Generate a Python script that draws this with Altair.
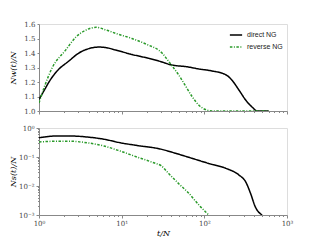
import altair as alt
import pandas as pd

series = ["direct NG", "reverse NG"]
colors = ["#000000", "#2a9a2a"]
dashes = [[1, 0], [2.5, 1.5, 1, 1.5]]

# top panel N_w(t)/N
t_top_direct = [1, 1.15, 1.32, 1.65, 2.3, 3.0, 4.0, 5.3, 6.5, 8.5, 13.3, 21.3, 28, 40.6, 60, 86, 124, 182, 215, 262, 316, 380, 437, 600]
y_top_direct = [1.08, 1.14, 1.2, 1.275, 1.345, 1.398, 1.43, 1.441, 1.437, 1.42, 1.39, 1.363, 1.345, 1.317, 1.306, 1.29, 1.276, 1.25, 1.214, 1.145, 1.076, 1.026, 1.0, 1.0]
t_top_reverse = [1, 1.15, 1.45, 2.1, 2.8, 3.7, 4.9, 6.5, 8.5, 13.3, 21, 28, 31, 34, 40, 49, 60, 71, 86, 103, 124, 600]
y_top_reverse = [1.055, 1.16, 1.30, 1.42, 1.51, 1.558, 1.577, 1.558, 1.535, 1.50, 1.455, 1.42, 1.398, 1.37, 1.317, 1.248, 1.168, 1.10, 1.04, 1.01, 1.0, 1.0]

# bottom panel N_s(t)/N
t_bot_direct = [1, 1.65, 2.4, 3.8, 6.1, 9.6, 15.3, 29, 45, 71, 113, 181, 262, 316, 362, 414, 500]
y_bot_direct = [0.46, 0.53, 0.53, 0.49, 0.41, 0.31, 0.25, 0.19, 0.134, 0.09, 0.06, 0.041, 0.024, 0.014, 0.0056, 0.0019, 0.001]
t_bot_reverse = [1, 1.65, 2.4, 3.8, 6.1, 9.6, 15.3, 24.5, 30, 37, 49, 65, 86, 103, 113]
y_bot_reverse = [0.33, 0.35, 0.35, 0.31, 0.24, 0.16, 0.10, 0.063, 0.05, 0.027, 0.012, 0.0056, 0.0022, 0.0013, 0.001]

x_ticks = [1, 2, 3, 4, 5, 6, 7, 8, 9, 10, 20, 30, 40, 50, 60, 70, 80, 90, 100,
           200, 300, 400, 500, 600, 700, 800, 900, 1000]
y_top_ticks = [1.0, 1.1, 1.2, 1.3, 1.4, 1.5, 1.6]
y_bot_ticks = [0.001, 0.002, 0.003, 0.004, 0.005, 0.006, 0.007, 0.008, 0.009,
               0.01, 0.02, 0.03, 0.04, 0.05, 0.06, 0.07, 0.08, 0.09,
               0.1, 0.2, 0.3, 0.4, 0.5, 0.6, 0.7, 0.8, 0.9, 1]


def frame(ts, ys, names):
    rows = []
    for t, y, n in zip(ts, ys, names):
        for a, b in zip(t, y):
            rows.append({"t": a, "v": b, "s": n})
    return pd.DataFrame(rows)


df_top = frame([t_top_direct, t_top_reverse], [y_top_direct, y_top_reverse], series)
df_bot = frame([t_bot_direct, t_bot_reverse], [y_bot_direct, y_bot_reverse], series)

serif = "DejaVu Serif"
major_x = "datum.value == 1 || datum.value == 10 || datum.value == 100 || datum.value == 1000"
major_y = "datum.value == 1 || datum.value == 0.1 || datum.value == 0.01 || datum.value == 0.001"

color = alt.Color("s:N", scale=alt.Scale(domain=series, range=colors),
                  legend=alt.Legend(title=None, orient="top-right", offset=4,
                                    symbolType="stroke", symbolSize=150, symbolStrokeWidth=1.5,
                                    labelFont="Liberation Sans", labelFontSize=7, labelColor="#222",
                                    rowPadding=2, symbolOffset=0))
dash = alt.StrokeDash("s:N", scale=alt.Scale(domain=series, range=dashes), legend=None)


def x_enc(labels):
    return alt.X("t:Q", scale=alt.Scale(type="log", domain=[1, 1000], nice=False),
                 axis=alt.Axis(values=x_ticks, grid=False,
                               labels=labels,
                               labelExpr="datum.value == 1 ? '10⁰' : datum.value == 10 ? '10¹' : datum.value == 100 ? '10²' : datum.value == 1000 ? '10³' : ''",
                               tickSize={"condition": {"test": major_x, "value": 3}, "value": 1.5},
                               title="t/N" if labels else None,
                               titleFont=serif, titleFontStyle="italic", titleFontWeight="normal",
                               titleFontSize=8, titlePadding=3,
                               labelFont=serif, labelFontSize=7, labelColor="#444",
                               domainColor="#888", tickColor="#888", labelPadding=1,
                               labelFlush=False))


top = alt.Chart(df_top).mark_line(strokeWidth=1.5, interpolate="monotone", clip=True).encode(
    x=x_enc(False),
    y=alt.Y("v:Q", scale=alt.Scale(domain=[1.0, 1.6], nice=False, zero=False),
            axis=alt.Axis(values=y_top_ticks, format=".1f", grid=False, title="Nw(t)/N",
                          titleFont=serif, titleFontStyle="italic", titleFontWeight="normal",
                          titleFontSize=8, titlePadding=2, minExtent=20, maxExtent=20,
                          labelFont=serif, labelFontSize=7, labelColor="#444",
                          tickSize=2, domainColor="#888", tickColor="#888", labelPadding=2)),
    color=color,
    strokeDash=dash,
).properties(width=248, height=87)

bot = alt.Chart(df_bot).mark_line(strokeWidth=1.5, interpolate="monotone", clip=True).encode(
    x=x_enc(True),
    y=alt.Y("v:Q", scale=alt.Scale(type="log", domain=[0.001, 1], nice=False),
            axis=alt.Axis(values=y_bot_ticks, grid=False, title="Ns(t)/N",
                          labelExpr="datum.value == 1 ? '10⁰' : datum.value == 0.1 ? '10⁻¹' : datum.value == 0.01 ? '10⁻²' : datum.value == 0.001 ? '10⁻³' : ''",
                          tickSize={"condition": {"test": major_y, "value": 3}, "value": 1.5},
                          titleFont=serif, titleFontStyle="italic", titleFontWeight="normal",
                          titleFontSize=8, titlePadding=2, minExtent=20, maxExtent=20,
                          labelFont=serif, labelFontSize=7, labelColor="#444",
                          domainColor="#888", tickColor="#888", labelPadding=2)),
    color=color,
    strokeDash=dash,
).properties(width=248, height=87)

chart = alt.vconcat(top, bot, spacing=8).properties(
    padding={"left": 0, "top": 11, "right": 0, "bottom": 0}
).configure_view(stroke="#888", strokeWidth=1).configure(background="white")

chart.save("out.html", embed_options={"renderer": "svg", "actions": False})
